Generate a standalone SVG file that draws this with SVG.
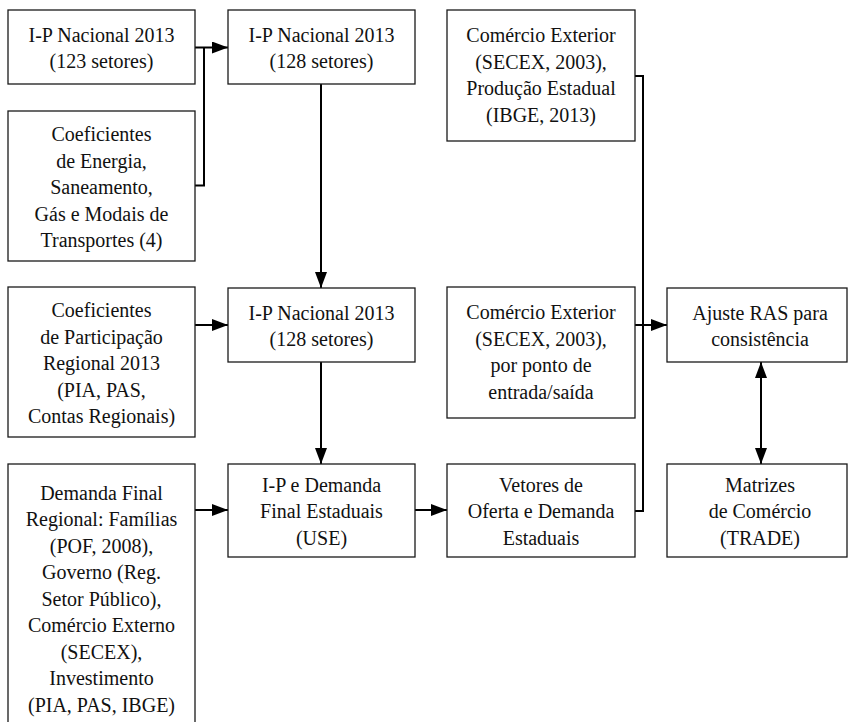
<svg xmlns="http://www.w3.org/2000/svg" width="848" height="722" viewBox="0 0 848 722">
<style>
.box{fill:#fff;stroke:#1a1a1a;stroke-width:1.3}
.t{font-family:'Liberation Serif','DejaVu Serif',serif;font-size:20px;fill:#111;text-anchor:middle}
.c{fill:none;stroke:#000;stroke-width:2}
</style>
<defs>
<marker id="ah" markerUnits="userSpaceOnUse" markerWidth="17" markerHeight="12" refX="16" refY="6" orient="auto">
<path d="M0,0 L16,6 L0,12 z" fill="#000"/>
</marker>
<marker id="as" markerUnits="userSpaceOnUse" markerWidth="17" markerHeight="12" refX="0" refY="6" orient="auto">
<path d="M16,0 L0,6 L16,12 z" fill="#000"/>
</marker>
</defs>
<rect width="848" height="722" fill="#fff"/>
<g id="connectors">
<path class="c" d="M195,47.5 H228" marker-end="url(#ah)"/>
<path class="c" d="M195,185.5 H204 V47.5"/>
<path class="c" d="M321,84 V288" marker-end="url(#ah)"/>
<path class="c" d="M195,325 H228" marker-end="url(#ah)"/>
<path class="c" d="M321,362 V464" marker-end="url(#ah)"/>
<path class="c" d="M195,510 H228" marker-end="url(#ah)"/>
<path class="c" d="M415,510 H447" marker-end="url(#ah)"/>
<path class="c" d="M635,76 H643 V511 H635"/>
<path class="c" d="M635,325 H667" marker-end="url(#ah)"/>
<path class="c" d="M761,362 V464" marker-start="url(#as)" marker-end="url(#ah)"/>
</g>
<g id="n1">
<rect class="box" x="8" y="10" width="187" height="74"/>
<text class="t" x="101.5" y="41.5" font-family="Liberation Serif">I-P Nacional 2013</text>
<text class="t" x="101.5" y="68.2" font-family="Liberation Serif">(123 setores)</text>
</g>
<g id="n2">
<rect class="box" x="228" y="10" width="187" height="74"/>
<text class="t" x="321.5" y="41.5">I-P Nacional 2013</text>
<text class="t" x="321.5" y="68.2">(128 setores)</text>
</g>
<g id="n3">
<rect class="box" x="8" y="111" width="187" height="150"/>
<text class="t" x="101.5" y="141">Coeficientes</text>
<text class="t" x="101.5" y="167.6">de Energia,</text>
<text class="t" x="101.5" y="194.2">Saneamento,</text>
<text class="t" x="101.5" y="220.8">Gás e Modais de</text>
<text class="t" x="101.5" y="247.4">Transportes (4)</text>
</g>
<g id="n4">
<rect class="box" x="8" y="287" width="187" height="150"/>
<text class="t" x="101.5" y="317">Coeficientes</text>
<text class="t" x="101.5" y="343.6">de Participação</text>
<text class="t" x="101.5" y="370.2">Regional 2013</text>
<text class="t" x="101.5" y="396.8">(PIA, PAS,</text>
<text class="t" x="101.5" y="423.4">Contas Regionais)</text>
</g>
<g id="n5">
<rect class="box" x="228" y="288" width="187" height="74"/>
<text class="t" x="321.5" y="319.5">I-P Nacional 2013</text>
<text class="t" x="321.5" y="346.2">(128 setores)</text>
</g>
<g id="n6">
<rect class="box" x="228" y="464" width="187" height="93"/>
<text class="t" x="321.5" y="491.5">I-P e Demanda</text>
<text class="t" x="321.5" y="518.1">Final Estaduais</text>
<text class="t" x="321.5" y="544.7">(USE)</text>
</g>
<g id="n7">
<rect class="box" x="8" y="464" width="187" height="270"/>
<text class="t" x="101.5" y="499.5">Demanda Final</text>
<text class="t" x="101.5" y="526">Regional: Famílias</text>
<text class="t" x="101.5" y="552.5">(POF, 2008),</text>
<text class="t" x="101.5" y="579">Governo (Reg.</text>
<text class="t" x="101.5" y="605.5">Setor Público),</text>
<text class="t" x="101.5" y="632">Comércio Externo</text>
<text class="t" x="101.5" y="658.5">(SECEX),</text>
<text class="t" x="101.5" y="685">Investimento</text>
<text class="t" x="101.5" y="711.5">(PIA, PAS, IBGE)</text>
</g>
<g id="n8">
<rect class="box" x="447" y="464" width="188" height="93"/>
<text class="t" x="541" y="491.5">Vetores de</text>
<text class="t" x="541" y="518.1">Oferta e Demanda</text>
<text class="t" x="541" y="544.7">Estaduais</text>
</g>
<g id="n9">
<rect class="box" x="667" y="464" width="180" height="93"/>
<text class="t" x="760" y="491.5">Matrizes</text>
<text class="t" x="760" y="518.1">de Comércio</text>
<text class="t" x="760" y="544.7">(TRADE)</text>
</g>
<g id="n10">
<rect class="box" x="667" y="288" width="180" height="74"/>
<text class="t" x="760" y="319.5">Ajuste RAS para</text>
<text class="t" x="760" y="346.2">consistência</text>
</g>
<g id="n11">
<rect class="box" x="447" y="287" width="188" height="131"/>
<text class="t" x="541" y="319">Comércio Exterior</text>
<text class="t" x="541" y="345.6">(SECEX, 2003),</text>
<text class="t" x="541" y="372.2">por ponto de</text>
<text class="t" x="541" y="398.8">entrada/saída</text>
</g>
<g id="n12">
<rect class="box" x="447" y="10" width="188" height="131"/>
<text class="t" x="541" y="42">Comércio Exterior</text>
<text class="t" x="541" y="68.6">(SECEX, 2003),</text>
<text class="t" x="541" y="95.2">Produção Estadual</text>
<text class="t" x="541" y="121.8">(IBGE, 2013)</text>
</g>
</svg>
